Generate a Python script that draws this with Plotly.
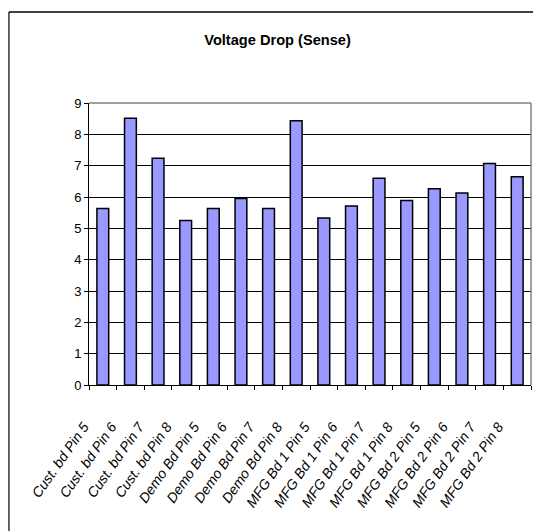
import plotly.graph_objects as go

categories = [
    "Cust. bd Pin 5", "Cust. bd Pin 6", "Cust. bd Pin 7", "Cust. bd Pin 8",
    "Demo Bd Pin 5", "Demo Bd Pin 6", "Demo Bd Pin 7", "Demo Bd Pin 8",
    "MFG Bd 1 Pin 5", "MFG Bd 1 Pin 6", "MFG Bd 1 Pin 7", "MFG Bd 1 Pin 8",
    "MFG Bd 2 Pin 5", "MFG Bd 2 Pin 6", "MFG Bd 2 Pin 7", "MFG Bd 2 Pin 8",
]
voltage_drop = [5.63, 8.51, 7.24, 5.25, 5.63, 5.95, 5.63, 8.43,
                5.33, 5.71, 6.60, 5.89, 6.26, 6.13, 7.07, 6.65]
y_ticks = [0, 1, 2, 3, 4, 5, 6, 7, 8, 9]
title_text = "Voltage Drop (Sense)"

# body margin is removed by post_script, so the figure fills the window
W, H = 533, 531
L, T = 89.3, 102.7
R = W - 531
B = H - 385.3
pw, ph = W - L - R, H - T - B

fig = go.Figure(go.Bar(
    x=categories, y=voltage_drop,
    marker=dict(color="#9999FF", line=dict(color="#000000", width=1.5)),
))

font = "Liberation Sans, Arial, sans-serif"
fig.update_layout(
    width=W, height=H,
    margin=dict(l=L, r=R, t=T, b=B, pad=0),
    paper_bgcolor="white", plot_bgcolor="white",
    bargap=0.573, showlegend=False,
    title=dict(text="<b>" + title_text + "</b>", x=277.5 / W, y=1 - 40 / H,
               xanchor="center", yanchor="middle",
               font=dict(family=font, size=14.6, color="#000000")),
    font=dict(family=font, color="#000000"),
)
fig.update_xaxes(
    type="category", tickson="boundaries", ticks="outside", ticklen=4,
    tickcolor="#000000", showline=True, linecolor="#000000", linewidth=1,
    showgrid=False, tickangle=-55, ticklabelshift=-19, ticklabelstandoff=27,
    tickfont=dict(family=font, size=14, style="italic", color="#000000"),
)
fig.update_yaxes(
    range=[0, 9], tickvals=y_ticks, ticks="outside", ticklen=4,
    tickcolor="#000000", showline=True, linecolor="#000000", linewidth=1,
    showgrid=True, gridcolor="#000000", gridwidth=1, zeroline=False,
    tickfont=dict(family=font, size=13, color="#000000"),
)
fig.add_shape(type="line", xref="paper", yref="paper", x0=1, x1=1, y0=0, y1=1,
              line=dict(color="#808080", width=1.5))
fig.add_shape(type="line", xref="paper", yref="paper", x0=0, x1=1, y0=1, y1=1,
              line=dict(color="#808080", width=1.5))
# outer chart frame: only its left and top edges fall inside the picture
fx0 = (9.3 - L) / pw
fy1 = 1 + (T - 11.5) / ph
fig.add_shape(type="line", xref="paper", yref="paper", x0=fx0, x1=fx0,
              y0=-(B + 5) / ph, y1=fy1, line=dict(color="#000000", width=1.2))
fig.add_shape(type="line", xref="paper", yref="paper", x0=fx0, x1=(W + 5 - L) / pw,
              y0=fy1, y1=fy1, line=dict(color="#000000", width=1.5))

fig.write_html(
    "out.html",
    config={"displayModeBar": False},
    post_script="document.body.style.margin='0';document.body.style.overflow='hidden';",
)
